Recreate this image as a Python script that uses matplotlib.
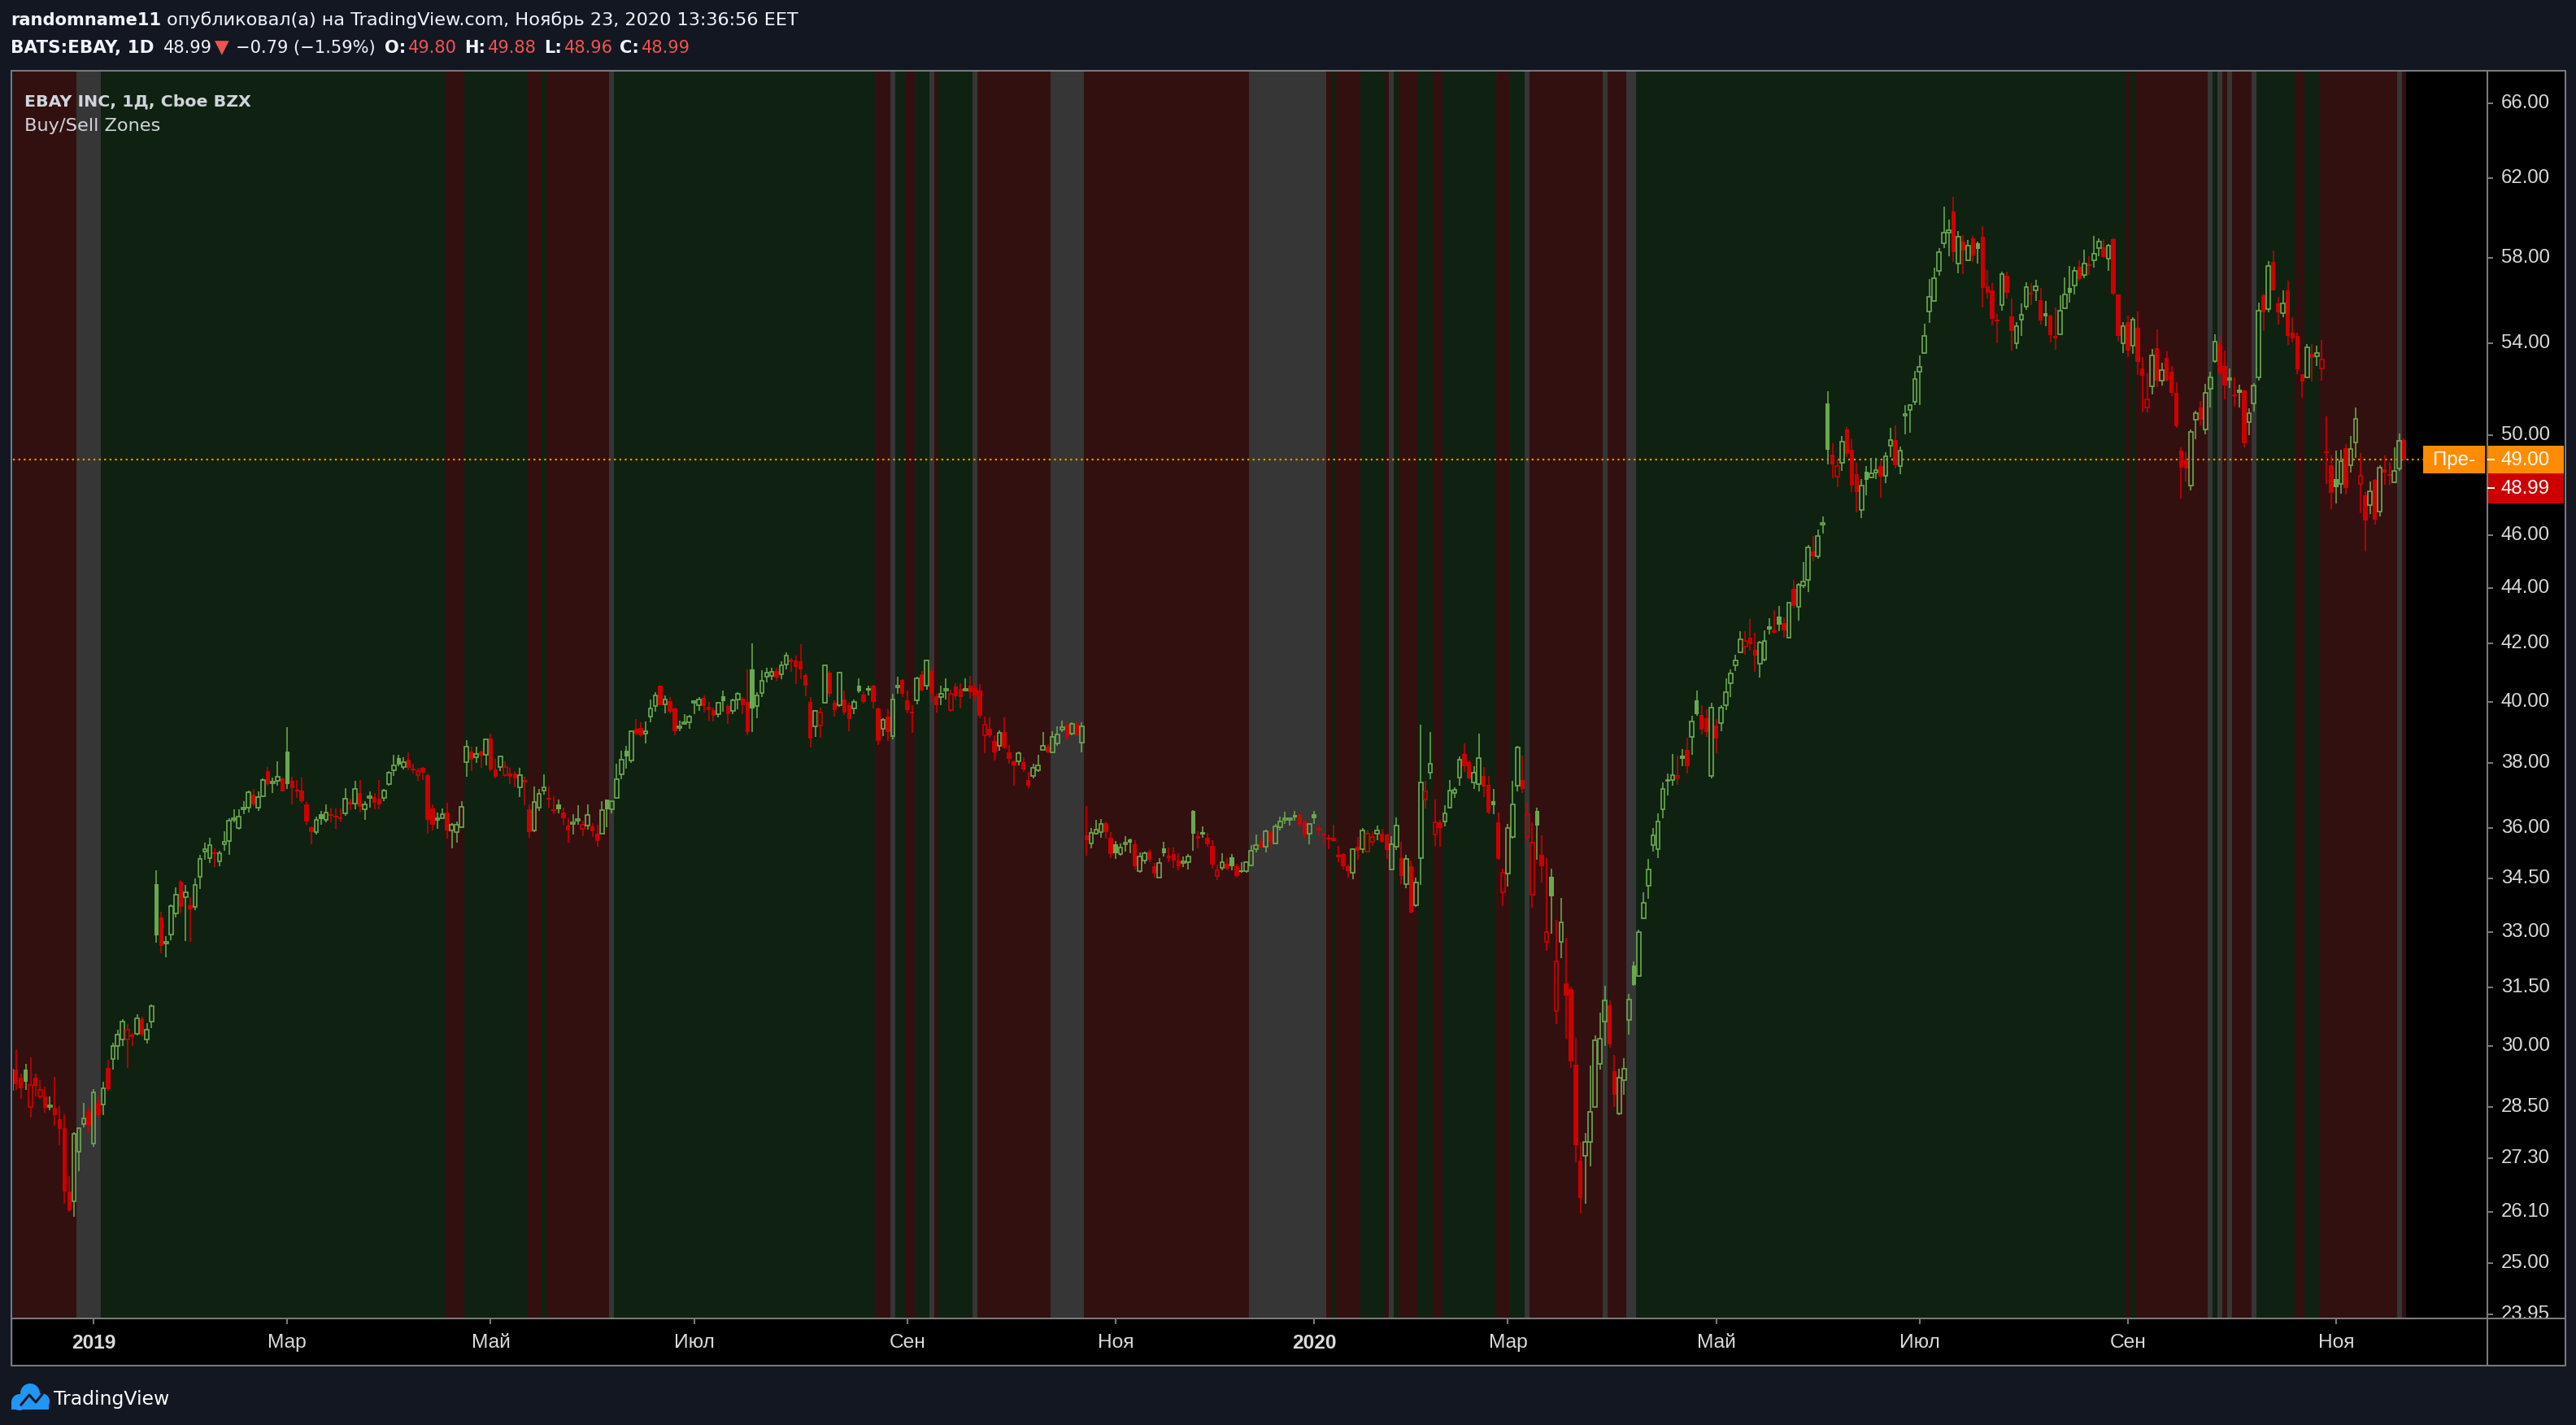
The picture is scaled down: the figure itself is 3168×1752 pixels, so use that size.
import numpy as np
import matplotlib.pyplot as plt
from matplotlib.patches import Rectangle, Circle

# EBAY daily bars, 6 Dec 2018 .. 20 Nov 2020 (bar index = trading day)
opens = [
    28.9, 29.4, 29.2, 29.4, 28.49, 29.2, 28.76, 28.76, 28.5, 28.48,
    28.2, 28.0, 26.55, 26.34, 27.46, 28.1, 28.38, 27.64, 28.6, 28.56,
    29.45, 29.66, 30.0, 30.15, 30.15, 30.27, 30.3, 30.68, 30.15, 30.6,
    34.35, 33.4, 32.68, 32.93, 33.5, 34.4, 33.97, 33.75, 33.7, 34.55,
    35.28, 35.1, 35.26, 35.0, 35.5, 35.6, 36.25, 36.0, 36.56, 36.6,
    37.0, 36.6, 36.95, 37.75, 37.37, 37.45, 37.52, 38.38, 37.45, 37.17,
    37.13, 36.72, 36.02, 35.88, 36.42, 36.24, 36.4, 36.36, 36.32, 36.44,
    36.78, 36.74, 37.07, 36.56, 36.9, 36.93, 36.88, 36.9, 37.35, 37.78,
    38.17, 37.88, 38.1, 37.82, 37.63, 37.85, 37.63, 36.58, 36.25, 36.3,
    36.46, 35.92, 35.87, 36.02, 38.04, 38.38, 38.2, 38.38, 38.27, 38.8,
    37.8, 37.88, 37.61, 37.67, 37.67, 37.23, 37.47, 36.56, 35.92, 36.62,
    37.13, 36.91, 36.55, 36.7, 36.46, 36.07, 36.12, 36.22, 35.96, 36.07,
    36.05, 35.83, 35.83, 36.85, 36.56, 36.91, 37.65, 38.41, 38.09, 39.1,
    39.13, 38.96, 39.5, 39.87, 40.54, 39.93, 40.02, 39.78, 39.14, 39.28,
    39.33, 39.96, 39.9, 40.14, 39.83, 39.73, 39.58, 40.2, 39.86, 39.71,
    40.08, 40.1, 40.0, 41.1, 39.86, 40.3, 40.86, 40.89, 41.05, 40.93,
    41.26, 41.44, 41.41, 41.37, 40.91, 39.99, 39.2, 39.21, 39.97, 40.98,
    39.97, 39.9, 40.08, 39.88, 39.79, 40.56, 40.25, 40.46, 40.56, 39.79,
    39.12, 39.51, 38.86, 40.49, 40.74, 40.06, 39.67, 40.04, 40.93, 40.54,
    41.05, 40.19, 40.17, 40.39, 39.72, 40.51, 40.45, 40.38, 40.54, 40.47,
    40.38, 38.9, 39.1, 38.71, 38.56, 39.0, 38.35, 38.06, 38.07, 38.03,
    37.47, 37.6, 37.77, 38.42, 38.53, 38.35, 38.64, 39.08, 39.23, 38.94,
    39.23, 38.65, 35.77, 35.54, 35.82, 35.87, 36.14, 35.71, 35.5, 35.22,
    35.5, 35.66, 35.5, 34.72, 35.03, 35.28, 34.87, 34.54, 35.39, 35.18,
    35.22, 35.02, 34.96, 34.97, 36.5, 35.76, 35.87, 35.71, 35.46, 34.58,
    34.81, 34.93, 35.13, 34.87, 34.74, 34.71, 34.89, 35.37, 35.57, 35.43,
    35.87, 35.53, 36.02, 36.25, 36.23, 36.38, 36.4, 36.2, 35.83, 36.4,
    35.99, 35.81, 35.69, 35.71, 35.2, 35.22, 34.87, 34.68, 35.44, 35.36,
    35.3, 35.58, 35.81, 35.83, 35.8, 34.76, 35.43, 35.09, 34.35, 34.87,
    33.73, 35.1, 36.85, 37.7, 35.8, 36.17, 36.2, 36.6, 37.05, 37.54,
    38.29, 38.04, 37.38, 37.35, 37.6, 37.32, 36.8, 36.17, 34.12, 34.64,
    35.72, 37.3, 37.47, 35.72, 34.03, 36.5, 35.19, 32.71, 34.56, 30.88,
    32.72, 31.6, 31.46, 29.52, 27.25, 27.36, 27.67, 28.49, 29.54, 30.6,
    31.02, 29.36, 28.34, 29.15, 30.66, 32.08, 31.79, 33.38, 34.29, 35.48,
    35.36, 36.56, 37.43, 37.47, 37.53, 38.23, 38.42, 38.84, 40.04, 39.57,
    39.47, 37.6, 39.22, 39.29, 39.9, 40.63, 41.25, 41.69, 41.89, 42.22,
    41.77, 41.31, 41.43, 42.61, 42.46, 42.97, 42.74, 42.22, 43.98, 43.3,
    44.1, 44.29, 45.38, 45.19, 46.4, 51.34, 49.21, 48.31, 48.85, 50.24,
    49.4, 48.41, 46.96, 48.5, 48.28, 48.47, 48.72, 48.34, 49.58, 49.79,
    48.72, 50.84, 51.07, 51.41, 52.72, 53.56, 55.46, 55.93, 57.37, 58.73,
    59.26, 60.3, 57.74, 58.81, 57.9, 58.94, 58.73, 59.06, 56.65, 56.44,
    55.09, 55.74, 57.13, 55.22, 54.02, 55.09, 55.7, 56.33, 56.46, 55.98,
    55.37, 55.26, 54.32, 54.42, 55.6, 56.56, 56.69, 57.57, 57.17, 57.67,
    57.89, 58.49, 58.53, 57.97, 58.92, 56.24, 54.02, 54.97, 53.9, 54.7,
    52.86, 51.19, 52.08, 53.77, 52.35, 53.34, 52.73, 51.81, 49.37, 49.0,
    47.94, 50.66, 51.19, 50.24, 51.99, 53.19, 53.98, 53.0, 52.37, 51.72,
    51.95, 51.93, 50.55, 51.34, 52.47, 56.21, 55.56, 57.8, 55.82, 55.37,
    56.43, 54.48, 54.33, 52.61, 52.49, 53.52, 53.43, 52.89, 49.3, 48.76,
    48.2, 47.99, 49.47, 48.75, 49.69, 48.01, 47.56, 47.16, 48.16, 46.91,
    48.59, 48.37, 48.07, 48.62, 49.8,
]
highs = [
    29.5, 29.9, 29.3, 29.55, 29.7, 29.3, 29.15, 28.98, 28.76, 29.23,
    28.52, 28.33, 26.9, 27.9, 28.02, 28.6, 28.5, 28.92, 28.8, 29.1,
    29.65, 30.07, 30.4, 30.67, 30.55, 30.32, 30.8, 30.73, 30.56, 31.05,
    34.75, 33.55, 32.87, 33.77, 34.25, 34.47, 34.32, 33.97, 34.5, 35.2,
    35.55, 35.7, 35.38, 35.32, 35.9, 36.3, 36.55, 36.57, 36.82, 37.15,
    37.2, 37.1, 37.52, 37.87, 37.55, 38.06, 37.55, 39.17, 37.57, 37.47,
    37.55, 36.78, 36.05, 36.34, 36.5, 36.72, 36.62, 36.58, 36.58, 37.22,
    36.88, 37.44, 37.48, 36.8, 37.1, 37.07, 37.48, 37.2, 37.76, 38.26,
    38.26, 38.2, 38.35, 37.98, 37.85, 37.87, 37.66, 36.72, 36.45, 36.58,
    36.77, 36.13, 36.2, 36.8, 38.75, 38.52, 38.52, 38.4, 38.8, 38.95,
    38.15, 38.25, 38.05, 37.85, 37.74, 37.85, 37.57, 36.72, 37.27, 37.19,
    37.65, 37.27, 36.96, 36.87, 36.6, 36.29, 36.4, 36.68, 36.21, 36.7,
    36.13, 36.1, 36.8, 36.87, 36.82, 37.99, 38.39, 38.56, 39.06, 39.44,
    39.33, 39.35, 40.07, 40.33, 40.56, 40.23, 40.17, 39.8, 39.38, 39.6,
    39.56, 40.04, 40.17, 40.23, 39.99, 39.82, 40.0, 40.39, 39.93, 40.1,
    40.33, 40.17, 41.1, 42.0, 40.33, 41.08, 41.17, 41.17, 41.17, 41.38,
    41.7, 41.51, 41.57, 41.97, 40.95, 40.16, 39.73, 39.8, 41.28, 41.06,
    40.04, 41.02, 40.38, 39.97, 40.08, 40.79, 40.35, 40.54, 40.58, 39.81,
    39.47, 39.76, 40.26, 40.84, 40.76, 40.38, 39.88, 40.86, 41.06, 41.44,
    41.19, 40.26, 40.54, 40.79, 40.4, 40.64, 40.63, 40.79, 40.88, 40.63,
    40.6, 39.51, 39.48, 38.9, 39.06, 39.48, 38.58, 38.08, 38.37, 38.19,
    37.72, 37.99, 38.26, 39.0, 38.62, 39.02, 39.18, 39.38, 39.35, 39.32,
    39.35, 39.32, 36.66, 36.0, 36.25, 36.26, 36.19, 35.87, 35.6, 35.52,
    35.75, 35.68, 35.62, 35.26, 35.3, 35.36, 34.95, 35.1, 35.57, 35.41,
    35.41, 35.23, 35.14, 35.22, 36.54, 35.89, 36.03, 35.85, 35.62, 34.9,
    35.23, 35.1, 35.22, 34.93, 34.99, 35.0, 35.49, 35.79, 35.79, 35.95,
    35.91, 36.11, 36.34, 36.48, 36.31, 36.52, 36.43, 36.22, 36.13, 36.52,
    36.09, 35.83, 35.79, 36.09, 35.46, 35.24, 34.9, 35.39, 35.73, 35.99,
    35.91, 35.89, 36.07, 35.97, 35.82, 35.74, 36.32, 35.57, 35.19, 35.03,
    34.52, 39.25, 37.43, 39.0, 36.85, 36.23, 36.69, 37.48, 37.25, 38.21,
    38.63, 38.08, 37.9, 38.95, 37.87, 37.6, 37.2, 36.47, 34.8, 36.11,
    37.43, 38.55, 38.23, 36.78, 36.17, 36.62, 35.78, 35.09, 34.8, 33.32,
    33.94, 32.83, 31.5, 30.2, 27.67, 27.89, 29.5, 30.25, 30.85, 31.53,
    31.16, 29.76, 29.43, 29.68, 31.33, 32.2, 33.05, 34.1, 35.08, 36.0,
    36.43, 37.38, 37.67, 38.3, 38.23, 38.45, 38.82, 39.54, 40.37, 39.89,
    39.76, 39.98, 39.44, 39.89, 40.79, 41.11, 41.6, 42.43, 42.43, 42.86,
    42.37, 42.1, 42.46, 42.89, 43.19, 43.33, 42.92, 43.49, 44.29, 44.17,
    44.98, 45.61, 45.96, 46.22, 46.71, 51.88, 49.68, 49.03, 49.97, 50.33,
    49.82, 48.85, 48.19, 48.72, 49.07, 49.07, 48.94, 49.3, 50.31, 50.43,
    49.54, 51.29, 51.32, 52.76, 53.44, 54.89, 56.98, 57.55, 58.48, 60.55,
    59.9, 61.06, 59.31, 59.14, 58.89, 59.1, 58.81, 59.56, 57.42, 56.81,
    55.35, 57.34, 57.32, 56.08, 54.97, 55.85, 56.82, 56.78, 56.95, 56.56,
    55.94, 55.32, 55.66, 56.21, 57.08, 57.63, 57.57, 57.89, 58.4, 58.1,
    59.09, 58.96, 58.92, 58.69, 58.95, 56.26, 54.95, 55.25, 55.19, 55.45,
    53.37, 52.67, 53.74, 54.63, 53.12, 53.62, 53.0, 52.28, 49.48, 49.28,
    50.24, 51.04, 51.45, 52.18, 52.74, 54.42, 54.33, 53.68, 52.89, 52.47,
    52.15, 51.95, 51.13, 52.24, 55.88, 56.3, 57.86, 58.35, 56.15, 56.43,
    56.91, 55.18, 54.5, 52.63, 53.98, 53.98, 53.89, 54.14, 50.79, 49.17,
    49.37, 49.4, 49.64, 49.98, 51.19, 49.26, 47.67, 48.11, 48.2, 48.75,
    49.17, 48.91, 49.48, 50.06, 49.88,
]
lows = [
    28.8, 28.9, 28.7, 28.9, 28.25, 28.75, 28.7, 28.36, 28.42, 28.06,
    27.6, 26.28, 26.1, 26.0, 27.0, 28.02, 27.88, 27.56, 28.25, 28.3,
    28.88, 29.4, 29.65, 30.0, 29.45, 30.0, 30.25, 30.23, 30.05, 30.45,
    32.7, 32.4, 32.3, 32.77, 33.4, 33.5, 32.75, 32.72, 33.6, 34.2,
    35.06, 34.95, 34.83, 34.87, 35.32, 35.2, 36.17, 35.95, 36.4, 36.45,
    36.65, 36.5, 36.93, 37.3, 37.05, 37.28, 37.1, 37.2, 36.7, 36.9,
    36.77, 36.08, 35.5, 35.8, 36.1, 36.16, 36.16, 35.98, 36.18, 36.36,
    36.53, 36.56, 36.45, 36.24, 36.6, 36.55, 36.57, 36.8, 37.3, 37.6,
    37.9, 37.8, 37.77, 37.68, 37.45, 37.47, 35.83, 35.93, 35.97, 36.28,
    35.67, 35.38, 35.56, 36.0, 37.56, 37.76, 38.0, 37.86, 37.92, 37.76,
    37.53, 37.75, 37.57, 37.33, 37.25, 36.93, 36.68, 35.71, 35.86, 36.5,
    37.0, 36.6, 36.4, 36.43, 36.1, 35.56, 35.8, 36.1, 35.74, 35.95,
    35.73, 35.43, 35.83, 36.02, 36.43, 36.89, 37.5, 37.83, 38.0, 38.89,
    38.84, 38.64, 39.33, 39.68, 39.88, 39.62, 39.63, 38.9, 39.03, 39.24,
    39.1, 39.58, 39.71, 39.64, 39.37, 39.35, 39.49, 39.67, 39.26, 39.59,
    39.75, 39.6, 38.9, 39.0, 39.46, 40.17, 40.66, 40.74, 40.72, 40.77,
    41.11, 41.03, 40.6, 40.77, 40.2, 38.5, 38.85, 38.83, 39.94, 40.16,
    39.5, 39.83, 39.56, 39.04, 39.6, 40.3, 39.94, 40.21, 39.79, 38.57,
    38.87, 38.72, 38.77, 40.26, 40.17, 39.61, 38.98, 39.92, 40.35, 40.42,
    40.01, 39.64, 39.9, 40.08, 39.66, 40.08, 39.77, 40.35, 40.1, 40.0,
    39.45, 38.33, 38.82, 38.09, 38.4, 38.46, 37.98, 37.3, 37.94, 37.72,
    37.22, 37.51, 37.72, 38.4, 38.33, 38.33, 38.56, 39.0, 38.74, 38.91,
    38.88, 38.35, 35.18, 35.38, 35.8, 35.71, 35.67, 35.1, 35.08, 35.18,
    35.3, 35.24, 34.76, 34.68, 34.93, 34.97, 34.52, 34.52, 35.15, 34.99,
    34.82, 34.74, 34.83, 34.76, 35.32, 35.38, 35.69, 35.43, 34.79, 34.45,
    34.74, 34.74, 34.74, 34.53, 34.66, 34.68, 34.87, 35.27, 35.39, 35.27,
    35.35, 35.51, 35.91, 36.11, 36.07, 36.22, 36.0, 35.67, 35.51, 36.11,
    35.75, 35.45, 35.35, 35.58, 34.97, 34.77, 34.53, 34.49, 35.05, 35.23,
    35.26, 35.45, 35.63, 35.55, 35.08, 34.73, 35.33, 34.33, 34.23, 33.51,
    33.69, 34.31, 36.58, 37.5, 35.45, 35.44, 36.05, 36.58, 36.91, 37.3,
    37.72, 37.49, 37.2, 37.1, 36.93, 36.4, 36.42, 35.04, 33.72, 34.28,
    35.67, 37.12, 37.05, 35.61, 33.66, 35.04, 34.39, 32.48, 32.95, 30.55,
    32.28, 30.17, 29.45, 27.2, 26.06, 26.28, 27.12, 28.47, 29.4, 30.0,
    29.94, 28.49, 28.31, 28.79, 30.27, 31.53, 31.77, 33.35, 33.92, 35.28,
    35.09, 36.28, 36.99, 37.29, 37.32, 37.9, 37.67, 38.27, 39.54, 38.92,
    38.84, 37.52, 38.33, 39.04, 39.74, 40.17, 41.06, 41.66, 41.6, 41.75,
    41.02, 40.82, 41.39, 42.31, 42.36, 42.43, 42.22, 42.19, 43.27, 42.82,
    44.0, 43.86, 45.0, 45.1, 46.05, 48.81, 48.24, 47.86, 48.53, 49.1,
    47.68, 46.86, 46.66, 47.55, 48.24, 48.2, 47.46, 48.03, 49.1, 48.63,
    48.41, 50.05, 50.1, 51.29, 51.29, 53.52, 54.94, 55.9, 57.15, 58.48,
    58.07, 57.82, 57.26, 57.21, 57.85, 57.79, 57.74, 55.66, 56.08, 54.81,
    54.02, 55.5, 56.08, 53.68, 53.74, 54.35, 55.54, 55.76, 55.95, 54.84,
    54.79, 54.05, 53.72, 54.4, 55.57, 55.88, 56.27, 56.91, 57.02, 57.17,
    57.53, 58.1, 58.01, 57.37, 56.21, 54.08, 53.56, 53.37, 53.52, 52.59,
    50.97, 50.97, 51.72, 52.06, 52.12, 52.29, 51.67, 50.3, 47.43, 48.09,
    47.75, 49.84, 50.41, 50.04, 51.16, 53.12, 52.59, 51.53, 52.02, 51.2,
    51.16, 49.48, 50.02, 51.01, 52.35, 54.57, 55.41, 56.43, 54.85, 55.19,
    53.92, 54.05, 52.62, 51.6, 52.47, 52.31, 53.0, 52.35, 48.01, 46.99,
    47.23, 47.62, 47.59, 48.45, 49.06, 46.83, 45.38, 46.8, 46.39, 46.7,
    47.98, 47.96, 48.05, 48.54, 48.96,
]
closes = [
    29.4, 29.05, 28.95, 29.1, 29.03, 29.0, 28.9, 28.47, 28.52, 28.3,
    27.97, 26.55, 26.13, 27.86, 28.0, 28.22, 28.06, 28.84, 28.3, 28.95,
    28.92, 29.99, 30.27, 30.6, 30.4, 30.22, 30.7, 30.28, 30.4, 31.0,
    32.9, 32.6, 32.72, 33.72, 34.03, 33.7, 34.1, 33.63, 34.32, 35.07,
    35.35, 35.48, 35.22, 35.25, 35.58, 36.22, 36.3, 36.33, 36.6, 37.08,
    36.7, 36.93, 37.48, 37.35, 37.42, 37.57, 37.12, 37.35, 37.22, 37.1,
    36.8, 36.2, 35.87, 36.23, 36.26, 36.46, 36.36, 36.32, 36.26, 36.88,
    36.7, 37.2, 36.63, 36.7, 36.95, 36.77, 36.72, 37.15, 37.7, 37.93,
    37.96, 38.04, 37.85, 37.77, 37.75, 37.7, 36.24, 36.1, 36.3, 36.4,
    35.92, 36.08, 36.1, 36.63, 38.52, 38.1, 38.3, 38.24, 38.77, 37.8,
    37.58, 38.22, 37.87, 37.58, 37.53, 37.61, 37.38, 35.86, 36.79, 37.03,
    37.25, 36.87, 36.51, 36.56, 36.3, 35.93, 36.16, 36.26, 36.09, 36.38,
    35.9, 35.6, 36.53, 36.56, 36.8, 37.5, 38.11, 38.21, 39.04, 38.95,
    38.9, 39.02, 39.79, 40.21, 39.9, 40.07, 39.68, 39.02, 39.18, 39.33,
    39.51, 40.02, 40.08, 39.86, 39.73, 39.53, 39.96, 40.02, 39.58, 40.06,
    40.26, 39.9, 39.0, 39.77, 40.21, 40.72, 41.0, 41.02, 40.81, 41.24,
    41.58, 41.35, 41.18, 41.1, 40.55, 38.8, 39.71, 39.65, 41.25, 40.28,
    39.74, 41.0, 39.64, 39.42, 40.01, 40.35, 40.01, 40.37, 39.99, 38.72,
    39.4, 39.01, 40.08, 40.54, 40.28, 39.74, 39.63, 40.79, 40.37, 41.42,
    40.28, 39.88, 40.28, 40.43, 40.28, 40.2, 40.15, 40.42, 40.34, 40.22,
    39.55, 39.24, 38.9, 38.35, 38.97, 38.49, 38.15, 37.94, 38.32, 37.79,
    37.29, 37.84, 37.92, 38.55, 38.35, 38.85, 38.92, 39.17, 38.84, 39.26,
    38.91, 39.19, 35.62, 35.85, 35.95, 36.11, 35.86, 35.22, 35.24, 35.4,
    35.54, 35.55, 34.87, 35.14, 35.24, 35.06, 34.64, 34.95, 35.23, 35.1,
    35.02, 34.87, 34.99, 35.14, 35.83, 35.67, 35.79, 35.51, 34.91, 34.74,
    34.99, 34.79, 34.85, 34.57, 34.7, 34.97, 35.32, 35.49, 35.41, 35.89,
    35.59, 36.05, 36.2, 36.29, 36.3, 36.32, 36.08, 35.79, 36.11, 36.28,
    35.91, 35.77, 35.64, 35.6, 35.13, 34.87, 34.71, 35.36, 35.31, 35.93,
    35.83, 35.72, 35.91, 35.59, 35.34, 35.5, 36.07, 34.57, 35.07, 33.53,
    34.39, 37.4, 37.1, 37.99, 36.17, 35.99, 36.43, 37.13, 37.17, 38.12,
    37.9, 37.51, 37.7, 38.17, 37.26, 36.45, 36.69, 35.08, 34.66, 36.0,
    36.7, 38.5, 37.2, 36.4, 35.56, 36.06, 34.86, 33.0, 34.0, 32.2,
    33.26, 31.28, 29.6, 27.6, 26.4, 27.67, 28.38, 30.14, 30.17, 31.16,
    30.03, 28.79, 29.2, 29.43, 31.18, 31.57, 32.98, 33.81, 34.77, 35.78,
    36.2, 37.2, 37.46, 37.63, 37.6, 38.14, 37.9, 39.34, 39.6, 39.09,
    39.0, 39.82, 38.79, 39.82, 40.33, 40.96, 41.4, 42.14, 42.1, 41.98,
    41.57, 42.04, 42.1, 42.49, 42.38, 42.68, 42.46, 43.45, 43.33, 44.13,
    44.23, 45.51, 45.19, 45.96, 46.45, 49.4, 48.8, 48.72, 49.75, 49.24,
    47.95, 47.68, 47.95, 48.16, 48.44, 48.56, 48.31, 49.13, 49.79, 48.76,
    49.37, 50.9, 51.29, 52.42, 52.96, 54.35, 56.13, 57.01, 58.27, 59.23,
    59.35, 58.28, 59.06, 58.37, 58.61, 58.11, 58.45, 56.55, 56.33, 55.12,
    55.01, 57.21, 56.33, 54.57, 54.79, 55.32, 56.59, 56.27, 56.65, 55.06,
    55.22, 54.38, 54.23, 55.5, 56.27, 56.32, 57.37, 57.0, 57.73, 57.61,
    58.2, 58.8, 58.06, 58.6, 56.3, 54.32, 54.79, 53.68, 55.09, 53.15,
    52.55, 51.54, 53.47, 52.35, 52.79, 52.35, 51.79, 50.39, 48.65, 48.62,
    50.13, 50.93, 50.66, 51.81, 52.49, 54.07, 52.67, 52.12, 52.41, 51.67,
    51.79, 49.67, 50.93, 52.12, 55.48, 55.41, 57.63, 56.46, 55.41, 55.85,
    54.35, 54.23, 52.83, 52.31, 53.81, 53.35, 53.58, 53.27, 49.26, 47.64,
    47.88, 48.93, 47.83, 49.43, 50.7, 48.32, 46.55, 47.72, 46.59, 48.67,
    48.45, 48.32, 48.53, 49.78, 48.99,
]

# Buy/Sell Zones indicator: first bar of each zone, s = sell, b = buy, n = neutral
zone_start = [0, 14, 19, 90, 94, 107, 110, 111, 124, 125, 179, 182, 183, 185, 187,
              190, 191, 192, 199, 200, 215, 222, 256, 272, 273, 274, 279, 284, 285,
              286, 287, 291, 294, 296, 307, 310, 313, 314, 329, 330, 334, 336, 437,
              438, 439, 454, 455, 456, 457, 458, 459, 463, 464, 472, 474, 477, 493, 494]
zone_kind = list("snbsbsbsnbsnbsbnsbnsnsnsbsbsnbsbsbsbnsnsnbsbsnbnsnsnbsbsns")

price_ticks = [23.95, 25.0, 26.1, 27.3, 28.5, 30.0, 31.5, 33.0, 34.5, 36.0, 38.0,
               40.0, 42.0, 44.0, 46.0, 50.0, 54.0, 58.0, 62.0, 66.0]
month_pos = [17, 57, 99, 141, 185, 228, 269, 309, 352, 394, 437, 480]
month_labels = ['2019', 'Мар', 'Май', 'Июл', 'Сен', 'Ноя',
                '2020', 'Мар', 'Май', 'Июл', 'Сен', 'Ноя']
last_price = 48.99
pre_price = 49.00

# ---- layout (pixels of the 3168x1752 output) ----
W, H, DPI = 3168, 1752, 200
PL, PR, PT, PB = 16, 3058, 88, 1620
AXR, TB = 3155, 1679
BG = '#131722'
GREEN, RED = '#6aa84f', '#cc0000'
GRID = '#7a7a7a'
SANS = ['DejaVu Sans']
AXF = ['Liberation Sans', 'DejaVu Sans']


def pt(px):
    return px * 72 / DPI


def box(x0, y0, x1, y1):
    return [x0 / W, 1 - y1 / H, (x1 - x0) / W, (y1 - y0) / H]


fig = plt.figure(figsize=(W / DPI, H / DPI), dpi=DPI, facecolor=BG)

ax = fig.add_axes(box(PL, PT, PR, PB))
ax.set_facecolor('black')
ax.set_yscale('log')
x_left = (PL - 13.73) / 5.957
x_right = (PR - 13.73) / 5.957
y_top = 66 * np.exp((127.3 - PT) / 1469)
y_bot = 66 * np.exp(-(PB - 127.3) / 1469)
ax.set_xlim(x_left, x_right)
ax.set_ylim(y_bot, y_top)
ax.tick_params(which='both', left=False, bottom=False, labelleft=False, labelbottom=False)
for s in ax.spines.values():
    s.set_visible(False)

# zones
zone_colors = {'s': '#331010', 'b': '#0f2211', 'n': '#363636'}
zone_end = zone_start[1:] + [len(closes)]
for s0, e0, k in zip(zone_start, zone_end, zone_kind):
    ax.axvspan(s0 - 0.5, e0 - 0.5, color=zone_colors[k], lw=0, zorder=0, antialiased=False)

# pre-market line
ax.axhline(pre_price, color='#ff9800', lw=pt(2.2), ls=(0, (1, 2)), zorder=1)

# hollow candles (TradingView style)
o = np.array(opens)
c = np.array(closes)
h = np.maximum(np.array(highs), np.maximum(o, c))
l = np.minimum(np.array(lows), np.minimum(o, c))
idx = np.arange(len(c))
prev = np.r_[o[0], c[:-1]]
col = np.where(c >= prev, GREEN, RED)
filled = c < o
top = np.maximum(o, c)
bot = np.minimum(o, c)
top = np.maximum(top, bot * 1.0013)

ax.vlines(idx, top, h, colors=col, lw=pt(1.6), zorder=2)
ax.vlines(idx, l, bot, colors=col, lw=pt(1.6), zorder=2)
ax.bar(idx[filled], (top - bot)[filled], bottom=bot[filled], width=0.9,
       color=col[filled], lw=0, zorder=3)
ax.bar(idx[~filled], (top - bot)[~filled], bottom=bot[~filled], width=0.78,
       facecolor='none', edgecolor=col[~filled], lw=pt(1.7), zorder=3)

# price axis
axp = fig.add_axes(box(PR, PT, AXR, PB))
axp.set_facecolor('black')
axp.set_yscale('log')
axp.set_ylim(y_bot, y_top)
axp.set_xlim(0, AXR - PR)
axp.tick_params(which='both', left=False, bottom=False, labelleft=False, labelbottom=False)
for s in axp.spines.values():
    s.set_visible(False)
axp.hlines(price_ticks, 0, 8, color=GRID, lw=pt(2))
for p in price_ticks:
    axp.text(18, p, f'{p:.2f}', color='#dadada', fontsize=pt(24), family=AXF,
             ha='left', va='center', clip_on=True)

# time axis
axt = fig.add_axes(box(PL, PB, PR, TB))
axt.set_facecolor('black')
axt.set_xlim(x_left, x_right)
axt.set_ylim(TB - PB, 0)
axt.tick_params(which='both', left=False, bottom=False, labelleft=False, labelbottom=False)
for s in axt.spines.values():
    s.set_visible(False)
axt.vlines(month_pos, 0, 8, color=GRID, lw=pt(2))
for m, lab in zip(month_pos, month_labels):
    axt.text(m, 31, lab, color='#dadada', fontsize=pt(24.5), family=AXF,
             fontweight='bold' if lab.isdigit() else 'normal', ha='center', va='center')

corner = fig.add_axes(box(PR, PB, AXR, TB))
corner.set_facecolor('black')
corner.set_xticks([])
corner.set_yticks([])
for s in corner.spines.values():
    s.set_visible(False)

# overlay in pixel coordinates
ov = fig.add_axes([0, 0, 1, 1])
ov.set_xlim(0, W)
ov.set_ylim(H, 0)
ov.axis('off')
ov.set_zorder(10)

# frame lines
lw_f = pt(2)
ov.plot([13.5, AXR, AXR, 13.5, 13.5], [86.5, 86.5, TB, TB, 86.5], color=GRID, lw=lw_f)
ov.plot([PR + 1, PR + 1], [86.5, TB], color=GRID, lw=lw_f)
ov.plot([13.5, AXR], [PB + 1, PB + 1], color=GRID, lw=lw_f)

# last price / pre-market labels
ov.add_patch(Rectangle((2980, 548), 76, 34, color='#ff8c00', lw=0))
ov.text(3018, 566, 'Пре-', color='white', fontsize=pt(24), family=AXF, ha='center', va='center')
ov.add_patch(Rectangle((PR + 2, 548), AXR - PR - 4, 34, color='#ff8c00', lw=0))
ov.plot([PR + 2, PR + 9], [565, 565], color='white', lw=pt(2))
ov.text(PR + 18, 566, f'{pre_price:.2f}', color='white', fontsize=pt(24), family=AXF,
        ha='left', va='center')
ov.add_patch(Rectangle((PR + 2, 582), AXR - PR - 4, 37, color='#cc0000', lw=0))
ov.plot([PR + 2, PR + 9], [600, 600], color='white', lw=pt(2))
ov.text(PR + 18, 601, f'{last_price:.2f}', color='white', fontsize=pt(24), family=AXF,
        ha='left', va='center')

# header text, placed piece by piece
renderer = fig.canvas.get_renderer()


def run(x, y, parts):
    for text, color, weight, size, gap in parts:
        t = ov.text(x, y, text, color=color, fontsize=pt(size), fontweight=weight,
                    family=SANS, ha='left', va='baseline')
        x += t.get_window_extent(renderer).width + gap


WHITE, VAL = '#f0f3fa', '#ef5350'
run(13, 31, [('randomname11', WHITE, 'bold', 21, 7),
             ('опубликовал(а) на TradingView.com, Ноябрь 23, 2020 13:36:56 EET',
              WHITE, 'normal', 22.4, 0)])
chg = last_price - closes[-2]
pct = chg / closes[-2] * 100
run(13, 65, [('BATS:EBAY, 1D', WHITE, 'bold', 21.5, 11),
             (f'{last_price:.2f}', WHITE, 'normal', 21, 3),
             ('▼', VAL, 'normal', 23, 9),
             (f'{chg:.2f} ({pct:.2f}%)'.replace('-', '−'), WHITE, 'normal', 21, 11),
             ('O:', WHITE, 'bold', 21, 3), (f'{opens[-1]:.2f}', VAL, 'normal', 21, 9),
             ('H:', WHITE, 'bold', 21, 3), (f'{highs[-1]:.2f}', VAL, 'normal', 21, 9),
             ('L:', WHITE, 'bold', 21, 3), (f'{lows[-1]:.2f}', VAL, 'normal', 21, 8),
             ('C:', WHITE, 'bold', 21, 3), (f'{closes[-1]:.2f}', VAL, 'normal', 21, 0)])

# legend inside the chart
ov.text(30, 130, 'EBAY INC, 1Д, Cboe BZX', color='#d1d4dc', fontsize=pt(20.5),
        fontweight='bold', family=SANS, va='baseline')
ov.text(30, 161, 'Buy/Sell Zones', color='#d1d4dc', fontsize=pt(22.5),
        family=SANS, va='baseline')

# TradingView logo
blue = '#2196f3'
for cx, cy, r in [(24, 1724, 10), (37, 1713, 12), (51, 1723, 10)]:
    ov.add_patch(Circle((cx, cy), r, color=blue, lw=0))
ov.add_patch(Rectangle((14, 1722), 46, 11, color=blue, lw=0))
ov.plot([26, 36, 44, 52], [1727, 1715, 1724, 1714], color=BG, lw=pt(3))
ov.text(66, 1727, 'TradingView', color='white', fontsize=pt(23.5), family=SANS,
        ha='left', va='baseline')

fig.savefig('out.png', dpi=DPI, facecolor=BG)
